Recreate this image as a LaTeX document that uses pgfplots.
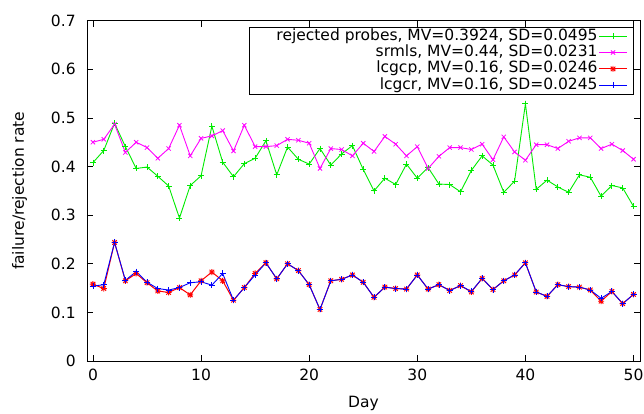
\documentclass[border=0pt]{standalone}
\usepackage{pgfplots}
\pgfplotsset{compat=1.18}
\usepackage{fontspec}
\setmainfont{DejaVu Sans}
\definecolor{gpgreen}{RGB}{0,235,0}
\definecolor{gpmag}{RGB}{255,0,255}
\definecolor{gpred}{RGB}{255,0,0}
\definecolor{gpblue}{RGB}{0,0,255}
\pgfdeclareplotmark{gpstar}{%
 \pgfpathmoveto{\pgfqpoint{-\pgfplotmarksize}{0pt}}\pgfpathlineto{\pgfqpoint{\pgfplotmarksize}{0pt}}%
 \pgfpathmoveto{\pgfqpoint{0pt}{-\pgfplotmarksize}}\pgfpathlineto{\pgfqpoint{0pt}{\pgfplotmarksize}}%
 \pgfpathmoveto{\pgfqpoint{-0.75\pgfplotmarksize}{-0.75\pgfplotmarksize}}\pgfpathlineto{\pgfqpoint{0.75\pgfplotmarksize}{0.75\pgfplotmarksize}}%
 \pgfpathmoveto{\pgfqpoint{-0.75\pgfplotmarksize}{0.75\pgfplotmarksize}}\pgfpathlineto{\pgfqpoint{0.75\pgfplotmarksize}{-0.75\pgfplotmarksize}}%
 \pgfusepathqstroke}
\begin{document}
\fontsize{15.5}{18}\selectfont
\begin{tikzpicture}
\begin{axis}[
  scale only axis,
  width=553pt, height=340.3pt,
  xmin=-0.55, xmax=50.6,
  ymin=0, ymax=0.7,
  xtick={0,10,20,30,40,50},
  ytick={0,0.1,0.2,0.3,0.4,0.5,0.6,0.7},
  yticklabel style={/pgf/number format/fixed, xshift=-6pt},
  xticklabel style={yshift=-2.5pt},
  /pgf/number format/assume math mode=true,
  tick align=inside,
  tick pos=both,
  major tick length=6pt,
  axis line style={line width=0.8pt},
  every tick/.style={black, line width=0.6pt},
  every axis x label/.style={at={(rel axis cs:0.5,0)}, yshift=-42pt, anchor=center},
  every axis y label/.style={at={(rel axis cs:0,0.5)}, xshift=-67.5pt, rotate=90, anchor=center},
  xlabel={Day},
  ylabel={failure/rejection rate},
  legend plot pos=right,
  legend cell align=right,
  legend image code/.code={\draw[mark repeat=2,mark phase=2] plot coordinates {(0pt,0pt) (14pt,0pt) (28pt,0pt)};},
  legend style={at={(rel axis cs:0.989,0.9815)}, anchor=north east, draw=black, line width=0.8pt, fill=white,
    inner xsep=6pt, inner ysep=0.5pt, row sep=0pt,
    nodes={inner xsep=1pt, inner ysep=0.6pt, text height=11.6pt, text depth=3.6pt}},
  mark size=3pt,
]
\addplot[gpgreen, line width=0.9pt, mark=+, mark options={line width=0.8pt}] coordinates {
(0,0.408)(1,0.433)(2,0.489)(3,0.441)(4,0.396)(5,0.399)(6,0.380)(7,0.360)(8,0.294)(9,0.361)
(10,0.381)(11,0.483)(12,0.409)(13,0.379)(14,0.406)(15,0.417)(16,0.453)(17,0.383)(18,0.440)(19,0.415)
(20,0.405)(21,0.437)(22,0.403)(23,0.426)(24,0.443)(25,0.394)(26,0.350)(27,0.376)(28,0.363)(29,0.405)
(30,0.376)(31,0.398)(32,0.364)(33,0.363)(34,0.348)(35,0.392)(36,0.422)(37,0.403)(38,0.347)(39,0.370)
(40,0.529)(41,0.353)(42,0.372)(43,0.358)(44,0.347)(45,0.383)(46,0.378)(47,0.339)(48,0.361)(49,0.356)
(50,0.318)};
\addlegendentry{\hspace*{20pt}rejected probes, MV=0.3924, SD=0.0495}
\addplot[gpmag, line width=0.9pt, mark=x, mark options={line width=0.8pt}] coordinates {
(0,0.450)(1,0.456)(2,0.487)(3,0.429)(4,0.450)(5,0.439)(6,0.417)(7,0.437)(8,0.485)(9,0.422)
(10,0.458)(11,0.463)(12,0.474)(13,0.432)(14,0.485)(15,0.441)(16,0.441)(17,0.443)(18,0.456)(19,0.454)
(20,0.448)(21,0.396)(22,0.437)(23,0.435)(24,0.422)(25,0.448)(26,0.431)(27,0.462)(28,0.446)(29,0.422)
(30,0.441)(31,0.396)(32,0.421)(33,0.439)(34,0.439)(35,0.435)(36,0.446)(37,0.414)(38,0.461)(39,0.430)
(40,0.413)(41,0.445)(42,0.445)(43,0.437)(44,0.452)(45,0.459)(46,0.459)(47,0.437)(48,0.446)(49,0.433)
(50,0.415)};
\addlegendentry{srmls, MV=0.44, SD=0.0231}
\addplot[gpred, line width=1pt, mark=gpstar, mark options={line width=0.9pt}] coordinates {
(0,0.158)(1,0.149)(2,0.244)(3,0.165)(4,0.180)(5,0.161)(6,0.144)(7,0.141)(8,0.151)(9,0.136)
(10,0.165)(11,0.183)(12,0.165)(13,0.125)(14,0.151)(15,0.180)(16,0.202)(17,0.169)(18,0.200)(19,0.186)
(20,0.157)(21,0.106)(22,0.165)(23,0.168)(24,0.177)(25,0.162)(26,0.131)(27,0.152)(28,0.149)(29,0.148)
(30,0.177)(31,0.148)(32,0.157)(33,0.145)(34,0.155)(35,0.142)(36,0.170)(37,0.147)(38,0.165)(39,0.177)
(40,0.202)(41,0.142)(42,0.133)(43,0.157)(44,0.153)(45,0.152)(46,0.146)(47,0.123)(48,0.143)(49,0.118)
(50,0.137)};
\addlegendentry{lcgcp, MV=0.16, SD=0.0246}
\addplot[gpblue, line width=0.9pt, mark=+, mark options={line width=0.8pt}] coordinates {
(0,0.154)(1,0.157)(2,0.244)(3,0.166)(4,0.184)(5,0.162)(6,0.149)(7,0.146)(8,0.151)(9,0.161)
(10,0.163)(11,0.156)(12,0.180)(13,0.125)(14,0.151)(15,0.177)(16,0.202)(17,0.169)(18,0.200)(19,0.186)
(20,0.157)(21,0.106)(22,0.165)(23,0.168)(24,0.177)(25,0.162)(26,0.131)(27,0.152)(28,0.149)(29,0.148)
(30,0.177)(31,0.148)(32,0.157)(33,0.145)(34,0.155)(35,0.143)(36,0.170)(37,0.147)(38,0.165)(39,0.177)
(40,0.202)(41,0.142)(42,0.133)(43,0.157)(44,0.153)(45,0.152)(46,0.146)(47,0.129)(48,0.143)(49,0.118)
(50,0.137)};
\addlegendentry{lcgcr, MV=0.16, SD=0.0245}
\end{axis}
\pgfresetboundingbox
\path[use as bounding box] (-87pt,-53pt) rectangle (557pt,361pt);
\end{tikzpicture}
\end{document}
